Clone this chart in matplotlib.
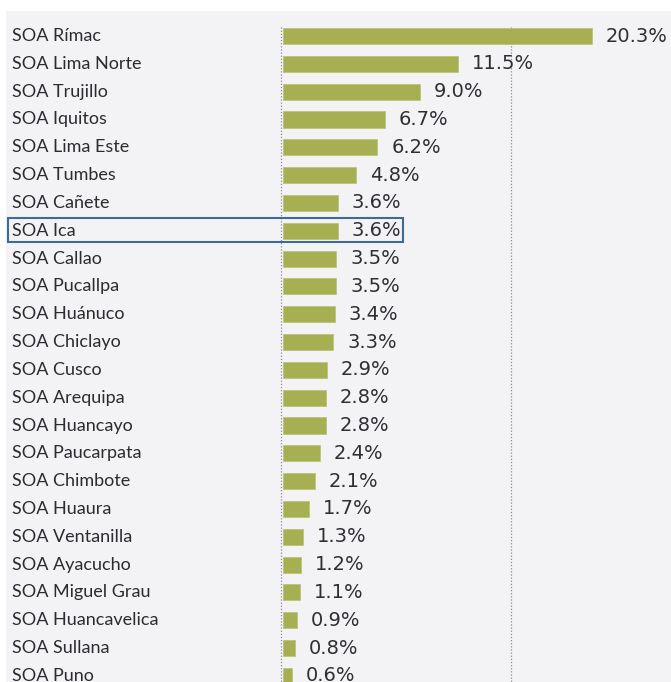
import matplotlib.pyplot as plt
from matplotlib.patches import Rectangle
from matplotlib.transforms import blended_transform_factory

# SOA offices and share (%)
oficinas = ["SOA Rímac", "SOA Lima Norte", "SOA Trujillo", "SOA Iquitos",
            "SOA Lima Este", "SOA Tumbes", "SOA Cañete", "SOA Ica",
            "SOA Callao", "SOA Pucallpa", "SOA Huánuco", "SOA Chiclayo",
            "SOA Cusco", "SOA Arequipa", "SOA Huancayo", "SOA Paucarpata",
            "SOA Chimbote", "SOA Huaura", "SOA Ventanilla", "SOA Ayacucho",
            "SOA Miguel Grau", "SOA Huancavelica", "SOA Sullana", "SOA Puno"]
valores = [20.3, 11.5, 9.0, 6.7, 6.2, 4.8, 3.6, 3.6, 3.5, 3.5, 3.4, 3.3,
           2.9, 2.8, 2.8, 2.4, 2.1, 1.7, 1.3, 1.2, 1.1, 0.9, 0.8, 0.6]
destacado = "SOA Ica"

W, H = 671, 682
PX = 15.22  # pixels per percent
fig = plt.figure(figsize=(W / 100, H / 100), dpi=100)
fig.patch.set_facecolor("white")

# light grey panel behind everything
fig.patches.append(Rectangle((6 / W, 0), 1, (H - 11) / H, transform=fig.transFigure,
                             facecolor="#f3f3f6", edgecolor="none", zorder=-10))

ax = fig.add_axes([279 / W, 0, 1 - 279 / W, (H - 11) / H])
ax.set_facecolor("none")
ax.set_xlim(-4 / PX, (W - 283) / PX)
ax.set_ylim(23.22, -0.9)
for s in ax.spines.values():
    s.set_visible(False)
ax.set_xticks([])
ax.set_yticks([])

pos = list(range(len(oficinas)))

# dotted reference lines
for xv in [-2.5 / PX, 15]:
    ax.vlines(xv, -0.33, 23.3, colors="#8a8a9a", linestyles=(0, (1, 1.5)),
              linewidth=0.9, zorder=1)

ax.barh(pos, valores, height=0.58, color="#a6b052", edgecolor="#b8c070",
        linewidth=0.5, zorder=2)

for y, v in zip(pos, valores):
    ax.annotate(f"{v:.1f}%", (v, y), xytext=(10, 0), textcoords="offset points",
                va="center", ha="left", fontsize=14, color="#2e2e33",
                family="DejaVu Sans", clip_on=False)

tr = blended_transform_factory(fig.transFigure, ax.transData)
for y, nombre in zip(pos, oficinas):
    ax.text(12 / W, y, nombre, transform=tr, va="center", ha="left",
            fontsize=13, color="#2b2b30", family="Lato", clip_on=False)

# highlight box
i = oficinas.index(destacado)
ax.add_patch(Rectangle((8 / W, i - 0.45), (403 - 8) / W, 0.86, transform=tr,
                       fill=False, edgecolor="#3d6a99", linewidth=1.5,
                       clip_on=False, zorder=5))

fig.savefig("out.png", dpi=100)
